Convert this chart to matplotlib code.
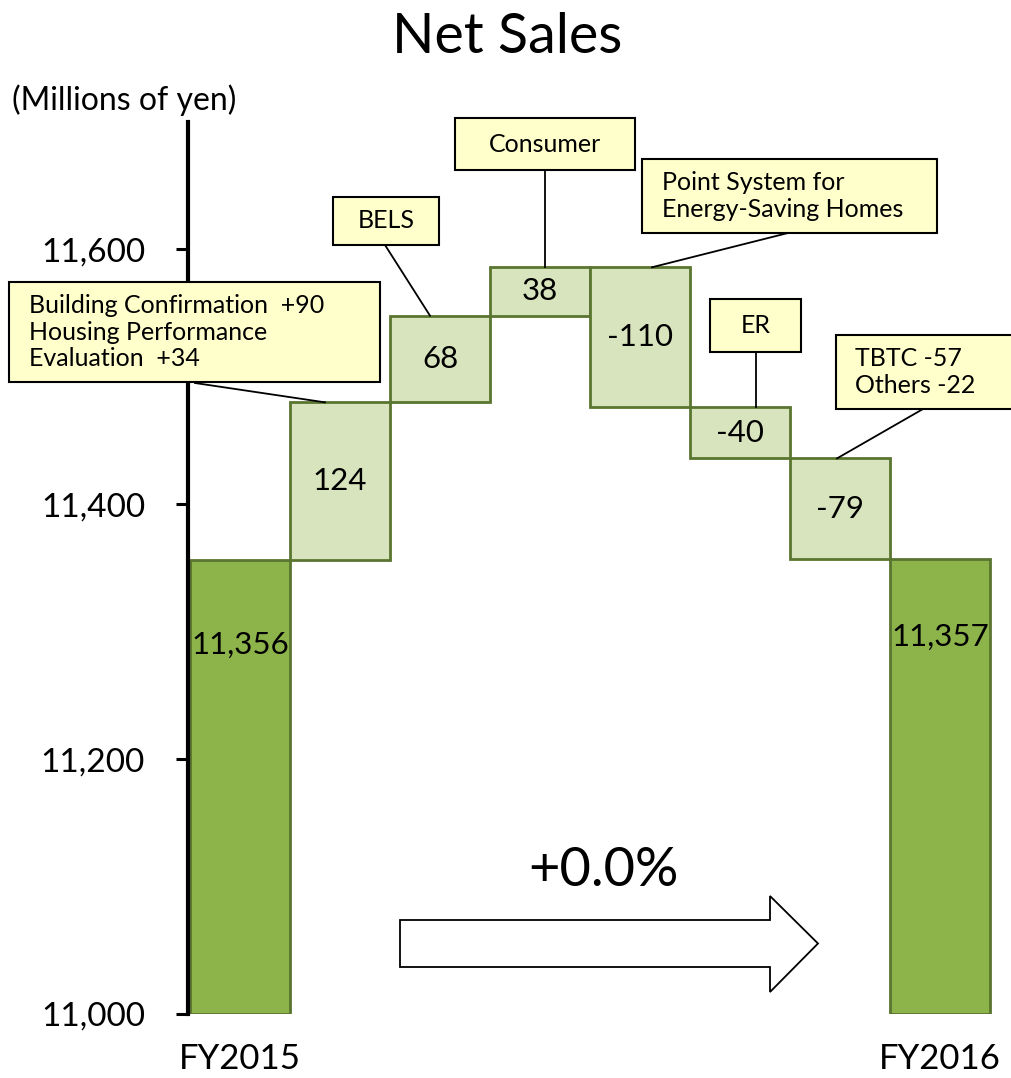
import matplotlib
matplotlib.use("Agg")
import matplotlib.pyplot as plt
from matplotlib.patches import Rectangle, Polygon

plt.rcParams['font.family'] = ['Lato', 'DejaVu Sans']

# ---- data ----
categories = ["FY2015", "Building Confirmation / Housing Performance Evaluation", "BELS",
              "Consumer", "Point System for Energy-Saving Homes", "ER", "TBTC / Others", "FY2016"]
start_total = 11356
deltas = [124, 68, 38, -110, -40, -79]
end_total = 11357
delta_labels = ["124", "68", "38", "-110", "-40", "-79"]
total_labels = ["11,356", "11,357"]
yticks = [11000, 11200, 11400, 11600]
ytick_labels = ["11,000", "11,200", "11,400", "11,600"]
callouts = ["Building Confirmation  +90\nHousing Performance\nEvaluation  +34",
            "BELS", "Consumer", "Point System for\nEnergy-Saving Homes", "ER",
            "TBTC -57\nOthers -22"]
change_text = "+0.0%"

W, H = 1011, 1078
fig = plt.figure(figsize=(W / 100, H / 100), dpi=100)
ax = fig.add_axes([188 / W, 64 / H, 812 / W, 892 / H])
ax.set_xlim(-0.52, 7.6)
ax.set_ylim(11000, 11700)

dark_fill = "#8DB34B"
light_fill = "#D7E4BD"
edge = "#5A7530"

# totals
ax.bar(0, start_total - 11000, bottom=11000, width=1.0, color=dark_fill,
       edgecolor=edge, linewidth=2.0, zorder=2)
ax.bar(7, end_total - 11000, bottom=11000, width=1.0, color=dark_fill,
       edgecolor=edge, linewidth=2.0, zorder=2)

# deltas
level = start_total
tops = []
for i, d in enumerate(deltas):
    lo, hi = min(level, level + d), max(level, level + d)
    ax.bar(i + 1, hi - lo, bottom=lo, width=1.0, color=light_fill,
           edgecolor=edge, linewidth=2.0, zorder=2)
    ax.text(i + 1, (lo + hi) / 2, delta_labels[i], ha="center", va="center",
            fontsize=22.5, zorder=3)
    tops.append(hi)
    level += d

ax.text(0, start_total - 66, total_labels[0], ha="center", va="center", fontsize=22.5, zorder=3)
ax.text(7, end_total - 61, total_labels[1], ha="center", va="center", fontsize=22.5, zorder=3)

# axes styling
for s in ["top", "right", "bottom"]:
    ax.spines[s].set_visible(False)
ax.spines["left"].set_linewidth(3.0)
ax.set_yticks(yticks)
ax.set_yticklabels(ytick_labels, fontsize=24)
ax.tick_params(axis="y", length=9, width=2.2, pad=22, direction="out")
ax.set_xticks([0, 7])
ax.set_xticklabels([categories[0], categories[7]], fontsize=25)
ax.tick_params(axis="x", length=0, pad=21)

fig.text(0.502, 0.989, "Net Sales", ha="center", va="top", fontsize=40)
fig.text(12 / W, 1 - 84 / H, "(Millions of yen)", ha="left", va="top", fontsize=23)

inv = ax.transData.inverted()
def p2d(px, py):
    return inv.transform((px, H - py))

# callout boxes: pixel layout (x0, y0, x1, y1), text align, text x, leader start, x offset on bar
boxes = [
    ((9, 282, 380, 382), "left", 29, (195, 383), -0.15),
    ((333, 197, 439, 245), "center", None, (385, 245), -0.1),
    ((455, 118, 635, 170), "center", None, (545, 170), 0.05),
    ((642, 159, 937, 233), "left", 662, (788, 233), 0.12),
    ((710, 299, 801, 352), "center", None, (756, 352), 0.16),
    ((836, 335, 1030, 409), "left", 855, (923, 409), -0.03),
]
for i, (rect, align, tx, anchor, dx) in enumerate(boxes):
    x0, y0, x1, y1 = rect
    (dx0, dy1), (dx1, dy0) = p2d(x0, y0), p2d(x1, y1)
    ax.add_patch(Rectangle((dx0, dy0), dx1 - dx0, dy1 - dy0, facecolor="#FFFFCC",
                           edgecolor="black", linewidth=1.5, clip_on=False, zorder=4))
    cy = (dy0 + dy1) / 2
    if align == "center":
        ax.text((dx0 + dx1) / 2, cy, callouts[i], ha="center", va="center",
                fontsize=18, linespacing=1.17, zorder=5, clip_on=False)
    else:
        ax.text(p2d(tx, 0)[0], cy, callouts[i], ha="left", va="center",
                fontsize=18, linespacing=1.17, zorder=5, clip_on=False)
    ax_, ay_ = p2d(*anchor)
    ax.plot([ax_, i + 1 + dx], [ay_, tops[i]], color="black", linewidth=1.3,
            zorder=3, clip_on=False)

# block arrow
(ax0, _), (hx, _), (tipx, _) = p2d(400, 0), p2d(770, 0), p2d(818, 0)
_, s_top = p2d(0, 920); _, s_bot = p2d(0, 967)
_, h_top = p2d(0, 896); _, h_bot = p2d(0, 992)
mid = (s_top + s_bot) / 2
ax.add_patch(Polygon([(ax0, s_bot), (ax0, s_top), (hx, s_top), (hx, h_top), (tipx, mid),
                      (hx, h_bot), (hx, s_bot)], closed=True, facecolor="white",
                     edgecolor="black", linewidth=1.3, zorder=3))
cx, cyy = p2d(603, 870)
ax.text(cx, cyy, change_text, ha="center", va="center", fontsize=39, zorder=3)

fig.savefig("out.png", dpi=100)
